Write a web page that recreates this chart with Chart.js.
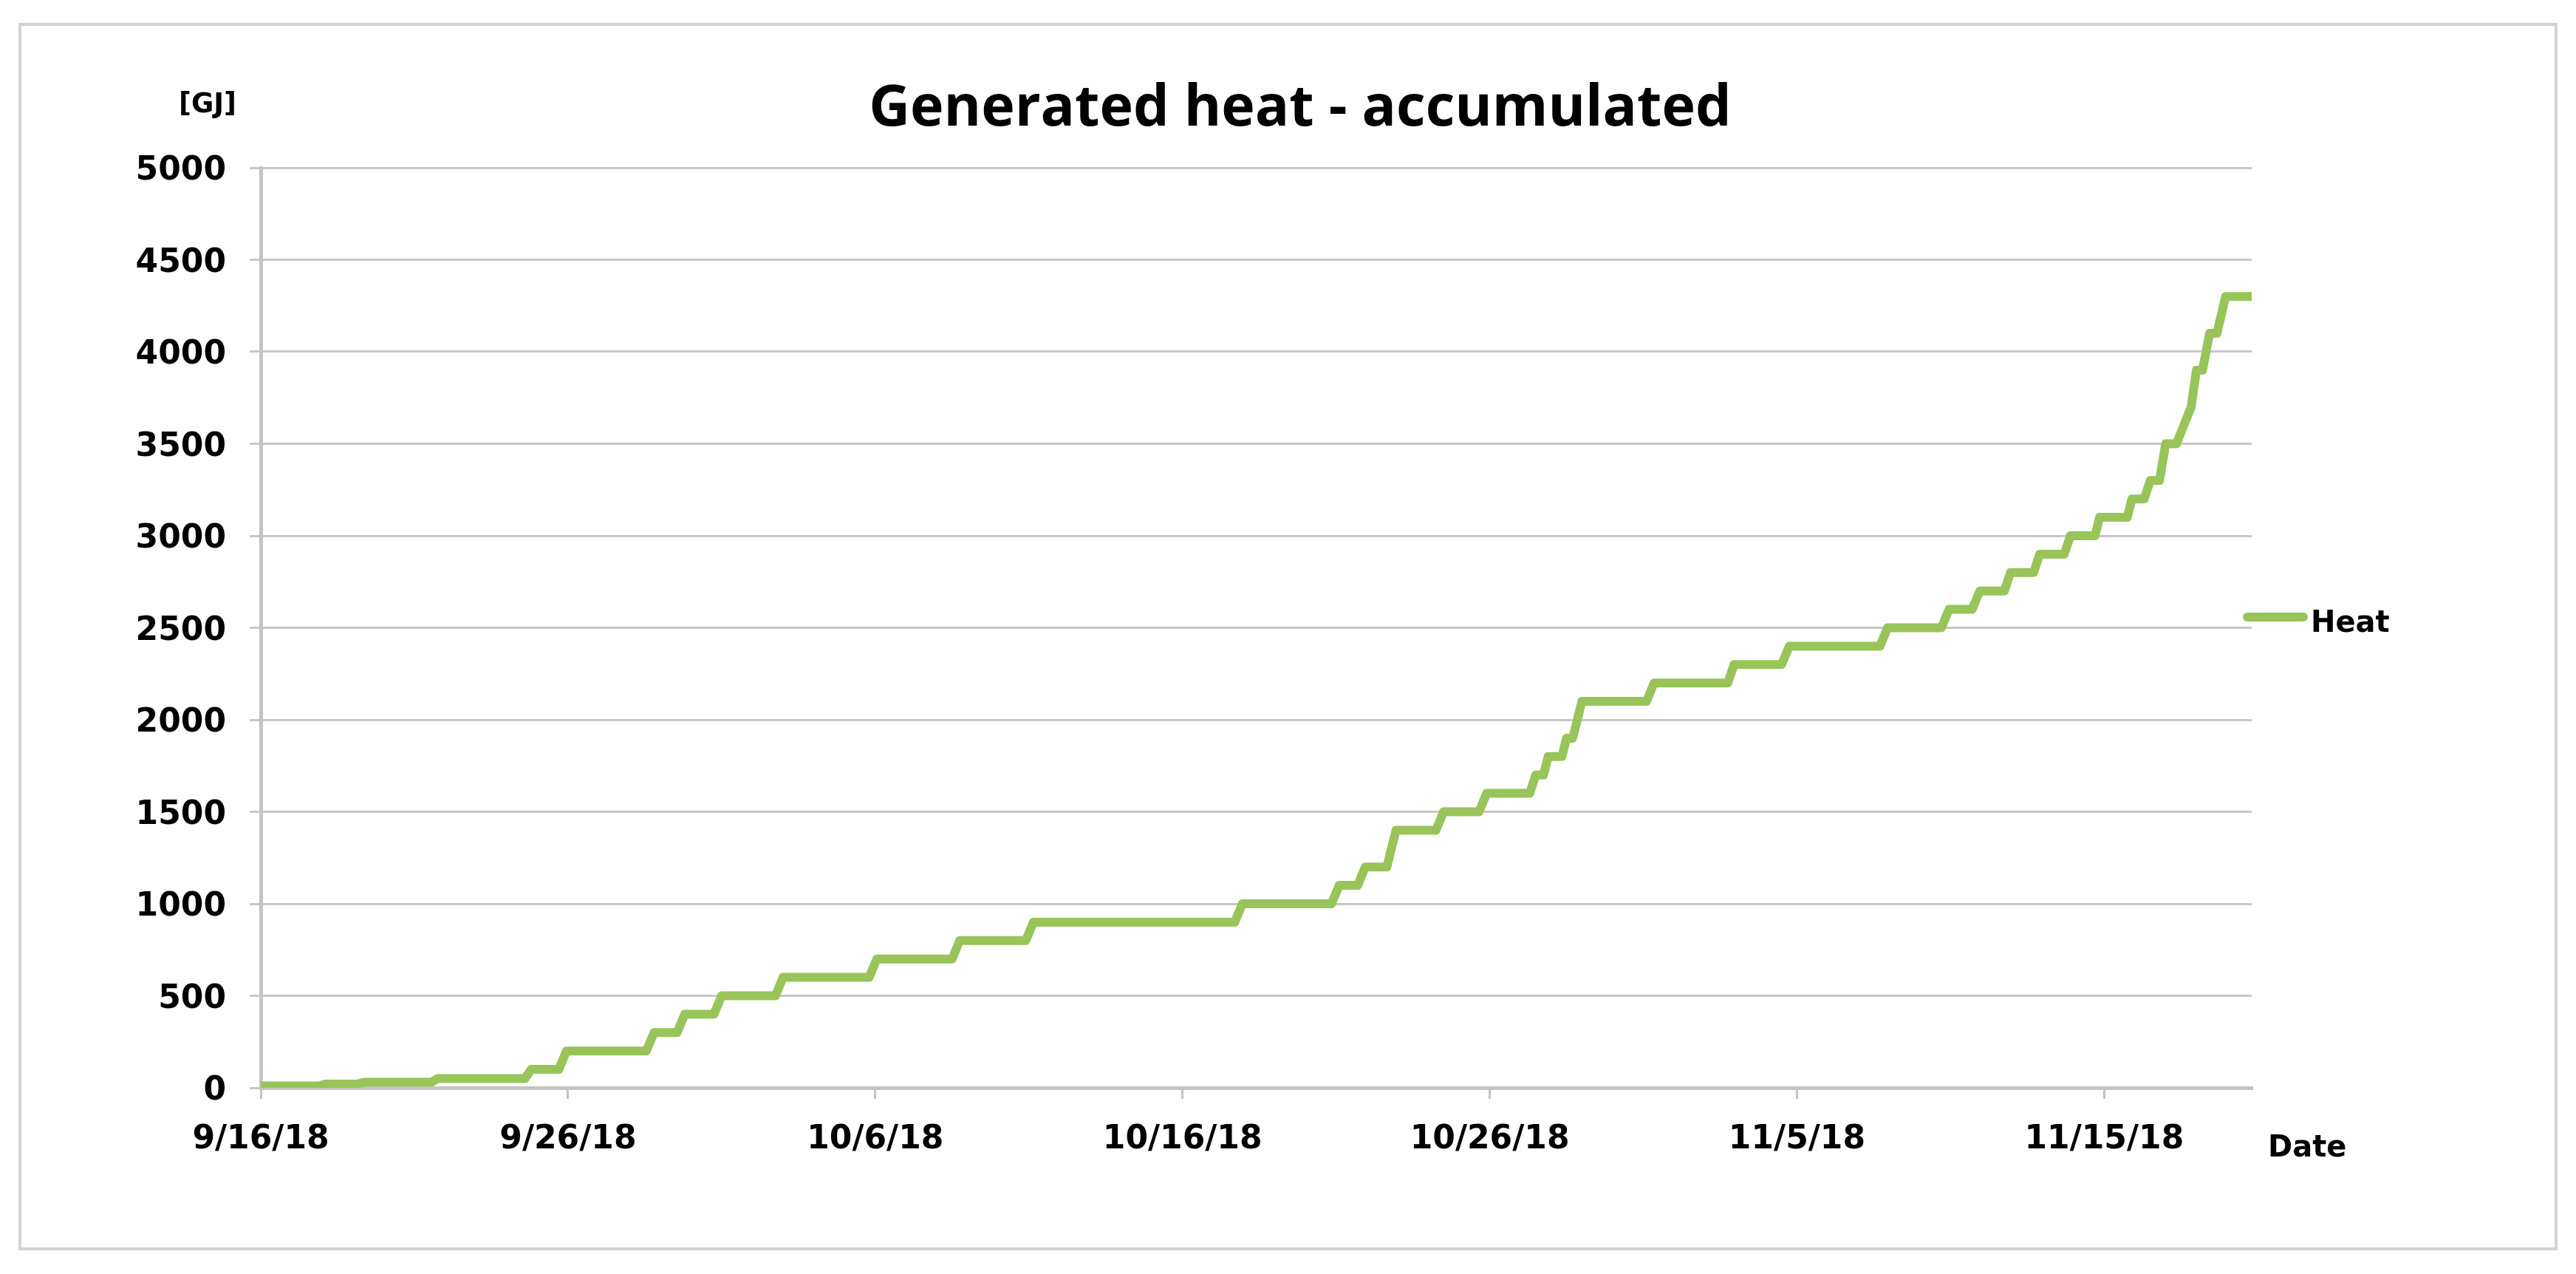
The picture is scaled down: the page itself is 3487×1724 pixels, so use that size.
<!DOCTYPE html>
<html>
<head>
<meta charset="utf-8">
<title>Generated heat - accumulated</title>
<script src="https://cdn.jsdelivr.net/npm/chart.js@4.4.1/dist/chart.umd.min.js"></script>
<style>
  html, body { margin: 0; padding: 0; background: #fff; }
  #wrap { width: 3487px; height: 1724px; }
</style>
</head>
<body>
<div id="wrap"><canvas id="heatChart" width="3487" height="1724"></canvas></div>
<script>
// days after 9/16/18 and the accumulated heat [GJ] at that moment
var heatDays = [0, 1.9, 2.1, 3.15, 3.35, 5.55, 5.75, 8.6, 8.8, 9.7, 9.95,
  12.55, 12.8, 13.55, 13.8, 14.75, 15.0, 16.75, 17.0, 19.8, 20.05,
  22.5, 22.75, 24.9, 25.15, 31.7, 31.95, 34.85, 35.1, 35.7, 35.95,
  36.65, 36.95, 38.25, 38.5, 39.65, 39.9, 41.3, 41.5, 41.75, 41.9,
  42.35, 42.5, 42.7, 43.0, 45.1, 45.35, 47.75, 47.95, 49.5, 49.75,
  52.7, 52.95, 54.7, 54.95, 55.7, 55.95, 56.75, 56.95, 57.7, 57.9,
  58.7, 58.9, 59.7, 59.85, 60.75, 60.9, 61.3, 61.5, 61.8, 62.0,
  62.35, 62.83, 63.0, 63.2, 63.43, 63.67, 63.95, 64.8];
var heatGJ = [10, 10, 20, 20, 30, 30, 50, 50, 100, 100, 200,
  200, 300, 300, 400, 400, 500, 500, 600, 600, 700,
  700, 800, 800, 900, 900, 1000, 1000, 1100, 1100, 1200,
  1200, 1400, 1400, 1500, 1500, 1600, 1600, 1700, 1700, 1800,
  1800, 1900, 1900, 2100, 2100, 2200, 2200, 2300, 2300, 2400,
  2400, 2500, 2500, 2600, 2600, 2700, 2700, 2800, 2800, 2900,
  2900, 3000, 3000, 3100, 3100, 3200, 3200, 3300, 3300, 3500,
  3500, 3700, 3900, 3900, 4100, 4100, 4300, 4300];
var xTickLabels = ['9/16/18', '9/26/18', '10/6/18', '10/16/18', '10/26/18', '11/5/18', '11/15/18'];
var yTickLabels = ['0', '500', '1000', '1500', '2000', '2500', '3000', '3500', '4000', '4500', '5000'];

var chartTitle = 'Generated heat - accumulated';
var yUnit = '[GJ]';
var xName = 'Date';
var seriesName = 'Heat';

var points = heatDays.map(function (d, i) { return { x: d, y: heatGJ[i] }; });

var tickFont = { family: '"DejaVu Sans"', size: 44, weight: 'bold' };

var extras = {
  id: 'extras',
  beforeDraw: function (chart) {
    var c = chart.ctx;
    c.save();
    c.fillStyle = '#fff';
    c.fillRect(0, 0, chart.width, chart.height);
    c.strokeStyle = '#d2d2d2';
    c.lineWidth = 4;
    c.strokeRect(27, 33, 3433, 1657);
    c.restore();
  },
  afterDraw: function (chart) {
    var c = chart.ctx, area = chart.chartArea;
    var ds = chart.data.datasets[0];
    c.save();
    c.fillStyle = '#000';
    c.textAlign = 'center';
    c.font = 'bold 77px "Open Sans"';
    c.fillText(chartTitle, 1760, 170);
    c.font = 'bold 37px "DejaVu Sans"';
    c.fillText(yUnit, 281, 152);
    c.textAlign = 'left';
    c.font = 'bold 40px "DejaVu Sans"';
    c.fillText(xName, area.right + 22, 1565);
    // legend entry
    c.strokeStyle = ds.borderColor;
    c.lineWidth = 12;
    c.lineCap = 'round';
    c.beginPath();
    c.moveTo(area.right - 6, 835);
    c.lineTo(area.right + 70, 835);
    c.stroke();
    c.fillText(ds.label, area.right + 80, 855);
    c.restore();
  }
};

var ctx = document.getElementById('heatChart').getContext('2d');
var heatChart = new Chart(ctx, {
  type: 'line',
  data: {
    datasets: [{
      label: seriesName,
      data: points,
      borderColor: '#98c45a',
      backgroundColor: '#98c45a',
      borderWidth: 12,
      pointRadius: 0,
      tension: 0,
      borderCapStyle: 'round',
      borderJoinStyle: 'round'
    }]
  },
  options: {
    responsive: false,
    animation: false,
    devicePixelRatio: 1,
    layout: { padding: { left: 0, top: 227, right: 439, bottom: 0 } },
    plugins: {
      legend: { display: false },
      title: { display: false },
      tooltip: { enabled: false }
    },
    scales: {
      x: {
        type: 'linear',
        min: 0,
        max: 64.8,
        afterFit: function (s) { s.height = 252; },
        grid: { drawOnChartArea: false, drawTicks: true, tickLength: 15, color: '#c4c4c4', lineWidth: 3 },
        border: { color: '#c4c4c4', width: 5 },
        ticks: {
          stepSize: 10,
          includeBounds: false,
          autoSkip: false,
          maxRotation: 0,
          padding: 29,
          color: '#000',
          font: tickFont,
          callback: function (v) { return xTickLabels[Math.round(v / 10)]; }
        }
      },
      y: {
        min: 0,
        max: 5000,
        afterFit: function (s) { s.width = 353; },
        grid: { color: '#c8c8c8', lineWidth: 3, tickLength: 15 },
        border: { color: '#c4c4c4', width: 5 },
        ticks: {
          stepSize: 500,
          padding: 32,
          labelOffset: 5,
          color: '#000',
          font: tickFont,
          callback: function (v) { return yTickLabels[Math.round(v / 500)]; }
        }
      }
    }
  },
  plugins: [extras]
});
</script>
</body>
</html>
